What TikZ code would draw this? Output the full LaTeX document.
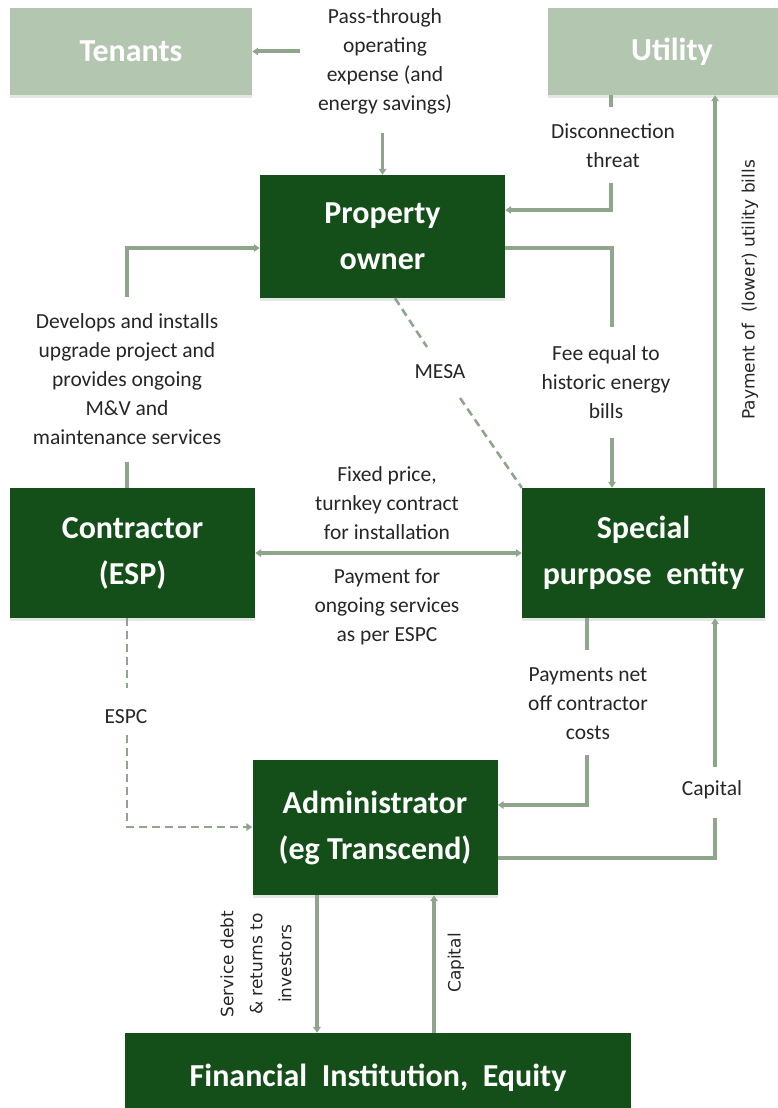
\documentclass[tikz,border=0pt]{standalone}
\usepackage{fontspec}
\setmainfont{Carlito}
\newfontfamily\rotfont{DejaVu Sans}
\usetikzlibrary{arrows.meta,shadows}

\definecolor{boxdark}{HTML}{144F19}
\definecolor{boxlight}{HTML}{B3C6B0}
\definecolor{flow}{HTML}{8FA68C}
\definecolor{labeltext}{HTML}{262626}

\tikzset{
  bigbox/.style={fill=boxdark, text=white, font=\bfseries\fontsize{32}{46}\selectfont,
    align=center, inner sep=0pt,
    drop shadow={shadow xshift=0pt, shadow yshift=-3pt, opacity=0.2}},
  outerbox/.style={bigbox, fill=boxlight},
  lbl/.style={text=labeltext, font=\fontsize{21.5}{29}\selectfont, align=center, inner sep=0pt},
  rotlbl/.style={text=labeltext, font=\rotfont\fontsize{17}{29}\selectfont, align=center,
    rotate=90, inner sep=0pt},
  flowline/.style={draw=flow, line width=3.2pt},
  flowarrow/.style={flowline, -{Triangle[length=6pt,width=7.5pt]}},
  dualarrow/.style={flowline, {Triangle[length=6pt,width=7.5pt]}-{Triangle[length=6pt,width=7.5pt]}},
  dashline/.style={flowline, line width=2.6pt, dash pattern=on 8pt off 5pt},
  dasharrow/.style={dashline, -{Triangle[length=6pt,width=7.5pt]}},
}

\begin{document}
\begin{tikzpicture}[x=1pt,y=-1pt]
\useasboundingbox (0,0) rectangle (778,1108);

% parties
\node[outerbox, minimum width=242pt, minimum height=87pt] (tenants) at (131,51.5) {Tenants};
\node[outerbox, minimum width=248pt, minimum height=87pt] (utility) at (672,51.5) {Utility};
\node[bigbox, minimum width=245pt, minimum height=123pt] (po) at (382.5,236.5) {Property\\owner};
\node[bigbox, minimum width=245pt, minimum height=130pt] (contractor) at (132.5,553) {Contractor\\(ESP)};
\node[bigbox, minimum width=243pt, minimum height=130pt] (spe) at (643.5,553) {Special\\purpose\ \ entity};
\node[bigbox, minimum width=245pt, minimum height=135pt] (admin) at (375,827.5) {Administrator\\(eg Transcend)};
\node[bigbox, minimum width=506pt, minimum height=90pt] (fin) at (378,1078) {Financial\ \ Institution,\ \ Equity};

% flow labels
\node[lbl] (lpass) at (385,61) {Pass-through\\operating\\expense (and\\energy savings)};
\node[lbl] (ldisc) at (613,146) {Disconnection\\threat};
\node[lbl] (ldev) at (127,379.5) {Develops and installs\\upgrade project and\\provides ongoing\\M\&V and\\maintenance services};
\node[lbl] (lmesa) at (440,372) {MESA};
\node[lbl] (lfee) at (606,382) {Fee equal to\\historic energy\\bills};
\node[lbl] (lfix) at (387,503) {Fixed price,\\turnkey contract\\for installation};
\node[lbl] (lpay) at (387,607) {Payment for\\ongoing services\\as per ESPC};
\node[lbl] (lespc) at (126,717) {ESPC};
\node[lbl] (lnet) at (588,704) {Payments net\\off contractor\\costs};
\node[lbl] (lcap) at (712,790) {Capital};
\node[rotlbl] (lutil) at (750,290) {Payment of\ \ (lower) utility bills};
\node[rotlbl] (lserv) at (256,964) {Service debt\\\& returns to\\investors};
\node[rotlbl] (lcapf) at (456,963) {Capital};

% pass-through expense: owner to tenants
\coordinate (ptL) at (300,51.5);
\draw[flowarrow, line width=4pt] (ptL) -- (tenants.east);
\coordinate (ptD) at (382.5,133);
\draw[flowarrow] (ptD) -- (po.north);

% disconnection threat: utility to owner
\coordinate (dcA) at (611,107);
\draw[flowline] (dcA |- utility.south) -- (dcA);
\coordinate (dcB) at (611,183);
\coordinate (dcC) at (611,210);
\draw[flowarrow] (dcB) -- (dcC) -- (dcC -| po.east);

% contractor services to owner
\coordinate (cpA) at (127,462);
\draw[flowline] (cpA |- contractor.north) -- (cpA);
\coordinate (cpB) at (127,297);
\coordinate (cpC) at (127,248);
\draw[flowarrow] (cpB) -- (cpC) -- (cpC -| po.west);

% fee: owner to SPE
\coordinate (feA) at (612,248);
\coordinate (feB) at (612,327);
\draw[flowline] (feA -| po.east) -- (feA) -- (feB);
\coordinate (feC) at (612,438);
\draw[flowarrow] (feC) -- (feC |- spe.north);

% MESA (dashed)
\coordinate (meA) at (395,298);
\coordinate (meB) at (427,347);
\draw[dashline] (meA |- po.south) -- (meB);
\coordinate (meC) at (460,398);
\draw[dashline] (meC) -- (spe.north west);

% contract between contractor and SPE
\draw[dualarrow] (contractor.east) -- (spe.west);

% ESPC (dashed)
\coordinate (esA) at (127,688);
\draw[dashline] (esA |- contractor.south) -- (esA);
\coordinate (esB) at (127,735);
\coordinate (esC) at (127,827);
\draw[dasharrow] (esB) -- (esC) -- (esC -| admin.west);

% payments net of contractor costs: SPE to administrator
\coordinate (pnA) at (587,650);
\draw[flowline] (pnA |- spe.south) -- (pnA);
\coordinate (pnB) at (587,755);
\coordinate (pnC) at (587,805);
\draw[flowarrow] (pnB) -- (pnC) -- (pnC -| admin.east);

% capital: administrator to SPE
\coordinate (caA) at (715,858);
\coordinate (caB) at (715,818);
\draw[flowline] (caA -| admin.east) -- (caA) -- (caB);
\coordinate (caC) at (715,767);
\draw[flowarrow] (caC) -- (caC |- spe.south);

% utility bills: SPE to utility
\coordinate (upX) at (715,300);
\draw[flowarrow] (upX |- spe.north) -- (upX |- utility.south);

% administrator and financial institution
\coordinate (sdX) at (317,960);
\draw[flowarrow] (sdX |- admin.south) -- (sdX |- fin.north);
\coordinate (fcX) at (434,960);
\draw[flowarrow] (fcX |- fin.north) -- (fcX |- admin.south);
\end{tikzpicture}
\end{document}
